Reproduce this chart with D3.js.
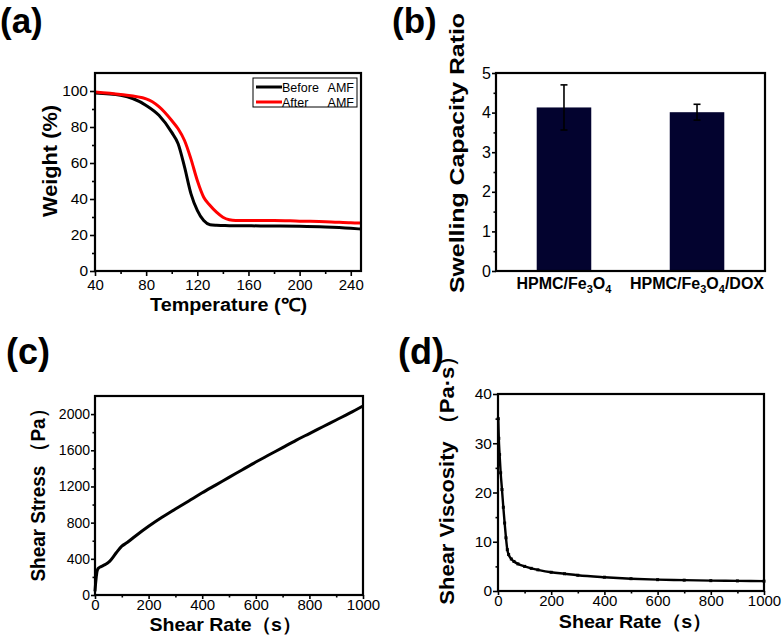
<!DOCTYPE html>
<html><head><meta charset="utf-8">
<script src="https://cdn.jsdelivr.net/npm/d3@7"></script>
<style>
body{margin:0;background:#fff}
text{font-family:"Liberation Sans",Arial,sans-serif;fill:#000}
</style></head><body>
<svg id="fig" width="784" height="636"></svg>
<script>
// (a) TGA curves
const tgaTemp   = [40, 60, 80, 90, 100, 105, 110, 115, 120, 125, 130, 135, 140, 145, 150, 160, 180, 200, 220, 240, 248];
const tgaBefore = [98.9, 97.6, 92, 86.5, 77, 70.7, 57.8, 43, 33.7, 28, 25.7, 25.4, 25.3, 25.2, 25.2, 25.1, 25, 24.8, 24.4, 23.7, 23.3];
const tgaAfter  = [99.4, 98, 95.6, 91.3, 83.6, 79, 72.5, 62.3, 50.3, 41, 36.4, 32.7, 29.9, 28.5, 28.1, 28.1, 28.1, 27.7, 27.4, 26.8, 26.6];
const tgaLegend = ["Before", "After"];

// (b) swelling ratio
const samples = ["HPMC/Fe3O4", "HPMC/Fe3O4/DOX"];
const swelling = [4.13, 4.01];
const swellingErr = [0.57, 0.2];

// (c) shear stress vs shear rate
const rateC  = [0, 2, 4, 6, 8, 10, 15, 20, 30, 40, 50, 60, 80, 100, 120, 150, 200, 250, 300, 350, 400, 450, 500, 550, 600, 650, 700, 750, 800, 850, 900, 950, 1000];
const stress = [40, 120, 180, 230, 265, 285, 300, 310, 325, 340, 360, 390, 470, 540, 580, 650, 760, 860, 950, 1040, 1130, 1215, 1300, 1385, 1470, 1550, 1630, 1710, 1785, 1860, 1935, 2010, 2090];

// (d) viscosity vs shear rate
const rateD     = [1, 3, 6, 10, 15, 20, 25, 30, 35, 40, 50, 60, 75, 100, 125, 150, 200, 250, 300, 400, 500, 600, 700, 800, 900, 1000];
const viscosity = [35, 31, 27.7, 24, 20.6, 17, 13.8, 10.8, 8.4, 7.4, 6.5, 6.0, 5.5, 5.0, 4.6, 4.3, 3.8, 3.5, 3.2, 2.8, 2.5, 2.3, 2.2, 2.1, 2.05, 2.0];

const svg = d3.select("#fig");
const fmt = d3.format("d");

function styleAxis(g, size) {
  g.select(".domain").remove();
  g.selectAll(".tick line").attr("stroke", "#000").attr("stroke-width", 1.6);
  g.selectAll(".tick text").style("font-size", size + "px").attr("fill", "#000");
}

function frame(x0, y0, x1, y1) {
  svg.append("rect").attr("x", x0).attr("y", y0)
    .attr("width", x1 - x0).attr("height", y1 - y0)
    .attr("fill", "none").attr("stroke", "#000").attr("stroke-width", 2.2);
}

function title(txt, x, y, size, len, rotate) {
  svg.append("text")
    .attr("transform", `translate(${x},${y})` + (rotate ? " rotate(-90)" : ""))
    .attr("text-anchor", "middle")
    .attr("textLength", len).attr("lengthAdjust", "spacingAndGlyphs")
    .style("font-size", size + "px").style("font-weight", "bold")
    .text(txt);
}

function tag(txt, x, y, size) {
  svg.append("text").attr("x", x).attr("y", y)
    .style("font-size", size + "px").style("font-weight", "bold").text(txt);
}

// ---------- (a)
{
  const x = d3.scaleLinear().domain([40, 248]).range([95, 361]);
  const y = d3.scaleLinear().domain([0, 110]).range([271, 73]);
  svg.append("g").attr("transform", "translate(95,0)")
    .call(d3.axisLeft(y).tickValues(d3.range(10, 110, 20)).tickSize(3).tickFormat(""))
    .call(styleAxis, 14);
  svg.append("g").attr("transform", "translate(95,0)")
    .call(d3.axisLeft(y).tickValues(d3.range(0, 101, 20)).tickSize(5).tickPadding(2).tickFormat(fmt))
    .call(styleAxis, 15.5);
  svg.append("g").attr("transform", "translate(0,271)")
    .call(d3.axisBottom(x).tickValues(d3.range(60, 248, 40)).tickSize(3).tickFormat(""))
    .call(styleAxis, 14);
  svg.append("g").attr("transform", "translate(0,271)")
    .call(d3.axisBottom(x).tickValues(d3.range(40, 241, 40)).tickSize(5).tickPadding(3).tickFormat(fmt))
    .call(styleAxis, 15);

  const line = d3.line().x(d => x(d[0])).y(d => y(d[1])).curve(d3.curveMonotoneX);
  const series = [
    { vals: tgaBefore, color: "#000" },
    { vals: tgaAfter, color: "#f00" }
  ];
  series.forEach(s => {
    svg.append("path").datum(tgaTemp.map((t, i) => [t, s.vals[i]]))
      .attr("d", line).attr("fill", "none")
      .attr("stroke", s.color).attr("stroke-width", 3);
  });

  // legend
  svg.append("rect").attr("x", 253).attr("y", 78).attr("width", 104).attr("height", 29)
    .attr("fill", "#fff").attr("stroke", "#000").attr("stroke-width", 1);
  tgaLegend.forEach((name, i) => {
    const ly = 87 + i * 15;
    svg.append("line").attr("x1", 256).attr("x2", 282).attr("y1", ly).attr("y2", ly)
      .attr("stroke", series[i].color).attr("stroke-width", 3);
    svg.append("text").attr("x", 282).attr("y", ly + 4.5)
      .style("font-size", "12.5px").text(name);
    svg.append("text").attr("x", 354).attr("y", ly + 4.5).attr("text-anchor", "end")
      .style("font-size", "12.5px").text("AMF");
  });

  frame(95, 73, 361, 271);
  title("Weight (%)", 57, 161, 20, 112, true);
  title("Temperature (\u2103)", 228.5, 311, 18, 157, false);
  tag("(a)", 0, 33, 35);
}

// ---------- (b)
{
  const x = d3.scaleBand().domain(samples).range([496, 765]).paddingInner(0.59).paddingOuter(0.306);
  const y = d3.scaleLinear().domain([0, 5]).range([271, 73]);
  svg.append("g").attr("transform", "translate(496,0)")
    .call(d3.axisLeft(y).tickValues(d3.range(0.5, 5, 1)).tickSize(2.5).tickFormat(""))
    .call(styleAxis, 14);
  svg.append("g").attr("transform", "translate(496,0)")
    .call(d3.axisLeft(y).ticks(5).tickSize(4).tickPadding(1).tickFormat(fmt))
    .call(styleAxis, 16);

  svg.selectAll(".bar").data(samples).enter().append("rect")
    .attr("x", d => x(d)).attr("width", x.bandwidth())
    .attr("y", (d, i) => y(swelling[i])).attr("height", (d, i) => y(0) - y(swelling[i]))
    .attr("fill", "#03032f");

  samples.forEach((s, i) => {
    const cx = x(s) + x.bandwidth() / 2;
    const top = y(swelling[i] + swellingErr[i]), bot = y(swelling[i] - swellingErr[i]);
    svg.append("line").attr("x1", cx).attr("x2", cx).attr("y1", top).attr("y2", bot)
      .attr("stroke", "#000").attr("stroke-width", 1.6);
    [top, bot].forEach(v => svg.append("line").attr("x1", cx - 3.5).attr("x2", cx + 3.5)
      .attr("y1", v).attr("y2", v).attr("stroke", "#000").attr("stroke-width", 1.6));

    // category label with subscripts
    const t = svg.append("text").attr("x", cx).attr("y", 289).attr("text-anchor", "middle")
      .style("font-size", "16px").style("font-weight", "bold");
    let shifted = false;
    s.split(/(\d)/).filter(p => p.length).forEach(p => {
      const sub = /^\d$/.test(p);
      const ts = t.append("tspan").text(p);
      if (sub) { ts.style("font-size", "11px").attr("dy", 4); shifted = true; }
      else if (shifted) { ts.attr("dy", -4); shifted = false; }
    });
  });

  frame(496, 73, 765, 271);
  title("Swelling Capacity Ratio", 463.5, 153, 21, 280, true);
  tag("(b)", 392, 33, 35);
}

// ---------- (c)
{
  const x = d3.scaleLinear().domain([0, 1000]).range([95, 363]);
  const y = d3.scaleLinear().domain([0, 2200]).range([595, 396]);
  svg.append("g").attr("transform", "translate(95,0)")
    .call(d3.axisLeft(y).tickValues(d3.range(200, 2200, 400)).tickSize(2.5).tickFormat(""))
    .call(styleAxis, 13);
  svg.append("g").attr("transform", "translate(95,0)")
    .call(d3.axisLeft(y).tickValues(d3.range(0, 2001, 400)).tickSize(4).tickPadding(1).tickFormat(fmt))
    .call(styleAxis, 14);
  svg.append("g").attr("transform", "translate(0,595)")
    .call(d3.axisBottom(x).tickValues(d3.range(100, 1000, 200)).tickSize(2.5).tickFormat(""))
    .call(styleAxis, 13);
  svg.append("g").attr("transform", "translate(0,595)")
    .call(d3.axisBottom(x).tickValues(d3.range(0, 1001, 200)).tickSize(4).tickPadding(0).tickFormat(fmt))
    .call(styleAxis, 15);

  const line = d3.line().x((d, i) => x(d)).y((d, i) => y(stress[i])).curve(d3.curveMonotoneX);
  svg.append("path").datum(rateC).attr("d", line).attr("fill", "none")
    .attr("stroke", "#000").attr("stroke-width", 3);

  frame(95, 396, 363, 595);
  title("Shear Stress \uFF08Pa\uFF09", 45, 490.5, 21, 182, true);
  title("Shear Rate\uFF08s\uFF09", 225.5, 631, 19, 152, false);
  tag("(c)", 6, 364, 36);
}

// ---------- (d)
{
  const x = d3.scaleLinear().domain([0, 1000]).range([498, 764]);
  const y = d3.scaleLinear().domain([0, 40]).range([591, 394]);
  svg.append("g").attr("transform", "translate(498,0)")
    .call(d3.axisLeft(y).tickValues(d3.range(5, 40, 10)).tickSize(2.5).tickFormat(""))
    .call(styleAxis, 13);
  svg.append("g").attr("transform", "translate(498,0)")
    .call(d3.axisLeft(y).tickValues(d3.range(0, 41, 10)).tickSize(5).tickPadding(1).tickFormat(fmt))
    .call(styleAxis, 15.5);
  svg.append("g").attr("transform", "translate(0,591)")
    .call(d3.axisBottom(x).tickValues(d3.range(100, 1000, 200)).tickSize(2.5).tickFormat(""))
    .call(styleAxis, 13);
  svg.append("g").attr("transform", "translate(0,591)")
    .call(d3.axisBottom(x).tickValues(d3.range(0, 1001, 200)).tickSize(4).tickPadding(0).tickFormat(fmt))
    .call(styleAxis, 15);

  const line = d3.line().x(d => x(d)).y((d, i) => y(viscosity[i])).curve(d3.curveMonotoneX);
  svg.append("path").datum(rateD).attr("d", line).attr("fill", "none")
    .attr("stroke", "#000").attr("stroke-width", 2.4);
  svg.selectAll(".pt").data(rateD).enter().append("rect")
    .attr("x", d => x(d) - 1.5).attr("y", (d, i) => y(viscosity[i]) - 1.5)
    .attr("width", 3).attr("height", 3).attr("fill", "#000");

  frame(498, 394, 764, 591);
  title("Shear Viscosity \uFF08Pa\u00B7s\uFF09", 454, 474.7, 21, 260, true);
  title("Shear Rate\uFF08s\uFF09", 635.3, 628, 19, 153, false);
  tag("(d)", 398, 364, 36);
}
</script>
</body></html>
